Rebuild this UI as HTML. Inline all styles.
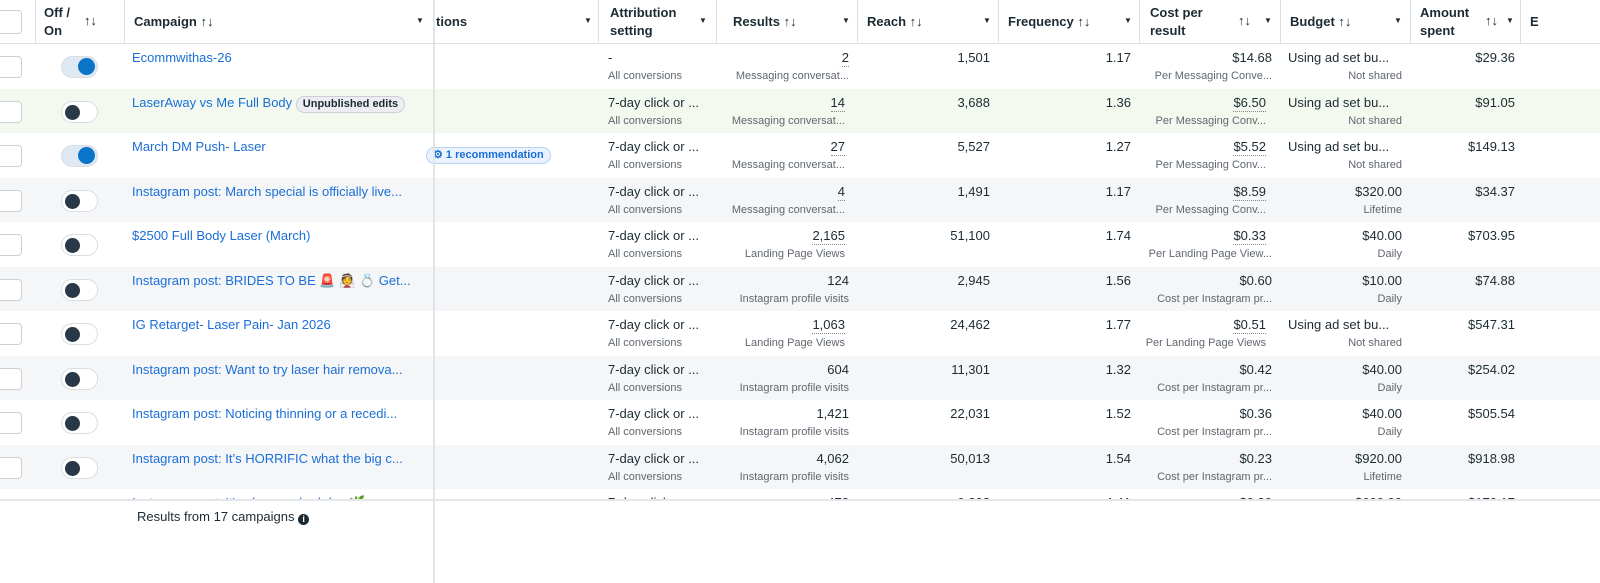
<!DOCTYPE html>
<html><head><meta charset="utf-8">
<style>
*{margin:0;padding:0;box-sizing:border-box}
body{width:1600px;height:583px;overflow:hidden;background:#fff;font-family:"Liberation Sans","Noto Sans CJK JP",sans-serif;color:#1c2b33;position:relative}
.a{position:absolute;white-space:nowrap}
.hd{position:absolute;left:0;top:0;width:1600px;height:44px;border-bottom:1px solid #dcdfe3;background:#fff}
.hv{position:absolute;top:0;height:44px;width:1px;background:#dcdfe3}
.ht{position:absolute;font-size:13px;font-weight:bold;line-height:18px;color:#1c2b33}
.car{position:absolute;font-size:8px;color:#1c2b33;top:16px}
.rows{position:absolute;left:0;top:44px;width:1600px;height:456px;overflow:hidden}
.r{position:absolute;left:0;width:1600px;height:44.5px}
.m{position:absolute;top:6px;font-size:13px;line-height:16px;white-space:nowrap}
.s{position:absolute;top:25px;font-size:11px;line-height:14px;color:#606770;white-space:nowrap}
.rt{text-align:right}
.lk{color:#1a6ed8}
.cb{position:absolute;left:-6px;top:12px;width:28px;height:22px;border:1px solid #ccd0d5;border-radius:4px;background:#fff}
.tg{position:absolute;left:61px;top:12px;width:37px;height:22px;border-radius:11px;border:1px solid #d8dde2;background:#fff}
.tg i{position:absolute;left:3px;top:3px;width:15px;height:15px;border-radius:50%;background:#283846}
.tg.on{background:#dfe9f4}
.tg.on i{left:auto;right:2px;background:#0a74c8;width:17px;height:17px;top:1px}
.du{border-bottom:1px dotted #888}
</style></head><body>
<div class="hd">
 <div class="hv" style="left:35px"></div><div class="hv" style="left:124px"></div>
 <div class="hv" style="left:598px"></div><div class="hv" style="left:716px"></div>
 <div class="hv" style="left:857px"></div><div class="hv" style="left:998px"></div>
 <div class="hv" style="left:1139px"></div><div class="hv" style="left:1280px"></div>
 <div class="hv" style="left:1410px"></div><div class="hv" style="left:1520px"></div>
 <div class="a" style="left:-6px;top:10px;width:28px;height:24px;border:1px solid #ccd0d5;border-radius:4px"></div>
 <div class="ht" style="left:44px;top:4px">Off /<br>On</div><div class="ht" style="left:84px;top:12px">↑↓</div>
 <div class="ht" style="left:134px;top:13px">Campaign ↑↓</div><div class="car" style="left:416px">▼</div>
 <div class="ht" style="left:436px;top:13px">tions</div><div class="car" style="left:584px">▼</div>
 <div class="ht" style="left:610px;top:4px">Attribution<br>setting</div><div class="car" style="left:699px">▼</div>
 <div class="ht" style="left:733px;top:13px">Results ↑↓</div><div class="car" style="left:842px">▼</div>
 <div class="ht" style="left:867px;top:13px">Reach ↑↓</div><div class="car" style="left:983px">▼</div>
 <div class="ht" style="left:1008px;top:13px">Frequency ↑↓</div><div class="car" style="left:1124px">▼</div>
 <div class="ht" style="left:1150px;top:4px">Cost per<br>result</div><div class="ht" style="left:1238px;top:12px">↑↓</div><div class="car" style="left:1264px">▼</div>
 <div class="ht" style="left:1290px;top:13px">Budget ↑↓</div><div class="car" style="left:1394px">▼</div>
 <div class="ht" style="left:1420px;top:4px">Amount<br>spent</div><div class="ht" style="left:1485px;top:12px">↑↓</div><div class="car" style="left:1506px">▼</div>
 <div class="ht" style="left:1530px;top:13px">E</div>
</div>
<div class="rows">
<!-- row template: campaign at 132, attribution 608, results right 849, reach right 990, freq right 1131, cost right 1272, budget 1288 / right 1402, amount right 1515 -->
<div class="r" style="top:0;background:#fff"><div class="cb"></div><div class="tg on"><i></i></div>
 <div class="m lk" style="left:132px">Ecommwithas-26</div>
 <div class="m" style="left:608px">-</div><div class="s" style="left:608px">All conversions</div>
 <div class="m rt du" style="right:751px">2</div><div class="s rt" style="right:751px">Messaging conversat...</div>
 <div class="m rt" style="right:610px">1,501</div><div class="m rt" style="right:469px">1.17</div>
 <div class="m rt" style="right:328px">$14.68</div><div class="s rt" style="right:328px">Per Messaging Conve...</div>
 <div class="m" style="left:1288px">Using ad set bu...</div><div class="s rt" style="right:198px">Not shared</div>
 <div class="m rt" style="right:85px">$29.36</div></div>
<div class="r" style="top:44.5px;background:#f3f9ee"><div class="cb"></div><div class="tg"><i></i></div>
 <div class="m lk" style="left:132px">LaserAway vs Me Full Body <span style="display:inline-block;font-size:11px;font-weight:bold;color:#1c2b33;background:#eceef1;border:1px solid #ccd0d5;border-radius:9px;padding:0 6px;line-height:15px">Unpublished edits</span></div>
 <div class="m" style="left:608px">7-day click or ...</div><div class="s" style="left:608px">All conversions</div>
 <div class="m rt du" style="right:755px">14</div><div class="s rt" style="right:755px">Messaging conversat...</div>
 <div class="m rt" style="right:610px">3,688</div><div class="m rt" style="right:469px">1.36</div>
 <div class="m rt du" style="right:334px">$6.50</div><div class="s rt" style="right:334px">Per Messaging Conv...</div>
 <div class="m" style="left:1288px">Using ad set bu...</div><div class="s rt" style="right:198px">Not shared</div>
 <div class="m rt" style="right:85px">$91.05</div></div>
<div class="r" style="top:89px;background:#fff"><div class="cb"></div><div class="tg on"><i></i></div>
 <div class="m lk" style="left:132px">March DM Push- Laser</div>
 <div class="a" style="left:426px;top:14px;font-size:11px;font-weight:bold;color:#1a6ed8;background:#eaf3fd;border:1px solid #b9d3f0;border-radius:9px;padding:0 6px;line-height:15px">⚙ 1 recommendation</div>
 <div class="m" style="left:608px">7-day click or ...</div><div class="s" style="left:608px">All conversions</div>
 <div class="m rt du" style="right:755px">27</div><div class="s rt" style="right:755px">Messaging conversat...</div>
 <div class="m rt" style="right:610px">5,527</div><div class="m rt" style="right:469px">1.27</div>
 <div class="m rt du" style="right:334px">$5.52</div><div class="s rt" style="right:334px">Per Messaging Conv...</div>
 <div class="m" style="left:1288px">Using ad set bu...</div><div class="s rt" style="right:198px">Not shared</div>
 <div class="m rt" style="right:85px">$149.13</div></div>
<div class="r" style="top:133.5px;background:#f5f6f7"><div class="cb"></div><div class="tg"><i></i></div>
 <div class="m lk" style="left:132px">Instagram post: March special is officially live...</div>
 <div class="m" style="left:608px">7-day click or ...</div><div class="s" style="left:608px">All conversions</div>
 <div class="m rt du" style="right:755px">4</div><div class="s rt" style="right:755px">Messaging conversat...</div>
 <div class="m rt" style="right:610px">1,491</div><div class="m rt" style="right:469px">1.17</div>
 <div class="m rt du" style="right:334px">$8.59</div><div class="s rt" style="right:334px">Per Messaging Conv...</div>
 <div class="m rt" style="right:198px">$320.00</div><div class="s rt" style="right:198px">Lifetime</div>
 <div class="m rt" style="right:85px">$34.37</div></div>
<div class="r" style="top:178px;background:#fff"><div class="cb"></div><div class="tg"><i></i></div>
 <div class="m lk" style="left:132px">$2500 Full Body Laser (March)</div>
 <div class="m" style="left:608px">7-day click or ...</div><div class="s" style="left:608px">All conversions</div>
 <div class="m rt du" style="right:755px">2,165</div><div class="s rt" style="right:755px">Landing Page Views</div>
 <div class="m rt" style="right:610px">51,100</div><div class="m rt" style="right:469px">1.74</div>
 <div class="m rt du" style="right:334px">$0.33</div><div class="s rt" style="right:328px">Per Landing Page View...</div>
 <div class="m rt" style="right:198px">$40.00</div><div class="s rt" style="right:198px">Daily</div>
 <div class="m rt" style="right:85px">$703.95</div></div>
<div class="r" style="top:222.5px;background:#f5f6f7"><div class="cb"></div><div class="tg"><i></i></div>
 <div class="m lk" style="left:132px">Instagram post: BRIDES TO BE 🚨 👰 💍 Get...</div>
 <div class="m" style="left:608px">7-day click or ...</div><div class="s" style="left:608px">All conversions</div>
 <div class="m rt" style="right:751px">124</div><div class="s rt" style="right:751px">Instagram profile visits</div>
 <div class="m rt" style="right:610px">2,945</div><div class="m rt" style="right:469px">1.56</div>
 <div class="m rt" style="right:328px">$0.60</div><div class="s rt" style="right:328px">Cost per Instagram pr...</div>
 <div class="m rt" style="right:198px">$10.00</div><div class="s rt" style="right:198px">Daily</div>
 <div class="m rt" style="right:85px">$74.88</div></div>
<div class="r" style="top:267px;background:#fff"><div class="cb"></div><div class="tg"><i></i></div>
 <div class="m lk" style="left:132px">IG Retarget- Laser Pain- Jan 2026</div>
 <div class="m" style="left:608px">7-day click or ...</div><div class="s" style="left:608px">All conversions</div>
 <div class="m rt du" style="right:755px">1,063</div><div class="s rt" style="right:755px">Landing Page Views</div>
 <div class="m rt" style="right:610px">24,462</div><div class="m rt" style="right:469px">1.77</div>
 <div class="m rt du" style="right:334px">$0.51</div><div class="s rt" style="right:334px">Per Landing Page Views</div>
 <div class="m" style="left:1288px">Using ad set bu...</div><div class="s rt" style="right:198px">Not shared</div>
 <div class="m rt" style="right:85px">$547.31</div></div>
<div class="r" style="top:311.5px;background:#f5f6f7"><div class="cb"></div><div class="tg"><i></i></div>
 <div class="m lk" style="left:132px">Instagram post: Want to try laser hair remova...</div>
 <div class="m" style="left:608px">7-day click or ...</div><div class="s" style="left:608px">All conversions</div>
 <div class="m rt" style="right:751px">604</div><div class="s rt" style="right:751px">Instagram profile visits</div>
 <div class="m rt" style="right:610px">11,301</div><div class="m rt" style="right:469px">1.32</div>
 <div class="m rt" style="right:328px">$0.42</div><div class="s rt" style="right:328px">Cost per Instagram pr...</div>
 <div class="m rt" style="right:198px">$40.00</div><div class="s rt" style="right:198px">Daily</div>
 <div class="m rt" style="right:85px">$254.02</div></div>
<div class="r" style="top:356px;background:#fff"><div class="cb"></div><div class="tg"><i></i></div>
 <div class="m lk" style="left:132px">Instagram post: Noticing thinning or a recedi...</div>
 <div class="m" style="left:608px">7-day click or ...</div><div class="s" style="left:608px">All conversions</div>
 <div class="m rt" style="right:751px">1,421</div><div class="s rt" style="right:751px">Instagram profile visits</div>
 <div class="m rt" style="right:610px">22,031</div><div class="m rt" style="right:469px">1.52</div>
 <div class="m rt" style="right:328px">$0.36</div><div class="s rt" style="right:328px">Cost per Instagram pr...</div>
 <div class="m rt" style="right:198px">$40.00</div><div class="s rt" style="right:198px">Daily</div>
 <div class="m rt" style="right:85px">$505.54</div></div>
<div class="r" style="top:400.5px;background:#f5f6f7"><div class="cb"></div><div class="tg"><i></i></div>
 <div class="m lk" style="left:132px">Instagram post: It’s HORRIFIC what the big c...</div>
 <div class="m" style="left:608px">7-day click or ...</div><div class="s" style="left:608px">All conversions</div>
 <div class="m rt" style="right:751px">4,062</div><div class="s rt" style="right:751px">Instagram profile visits</div>
 <div class="m rt" style="right:610px">50,013</div><div class="m rt" style="right:469px">1.54</div>
 <div class="m rt" style="right:328px">$0.23</div><div class="s rt" style="right:328px">Cost per Instagram pr...</div>
 <div class="m rt" style="right:198px">$920.00</div><div class="s rt" style="right:198px">Lifetime</div>
 <div class="m rt" style="right:85px">$918.98</div></div>
<div class="r" style="top:445px;background:#fff"><div class="cb"></div><div class="tg"><i></i></div>
 <div class="m lk" style="left:132px">Instagram post: It's always a bad day 🌿</div>
 <div class="m" style="left:608px">7-day click or ...</div>
 <div class="m rt" style="right:751px">472</div>
 <div class="m rt" style="right:610px">9,202</div><div class="m rt" style="right:469px">1.11</div>
 <div class="m rt" style="right:328px">$0.30</div>
 <div class="m rt" style="right:198px">$600.00</div>
 <div class="m rt" style="right:85px">$170.17</div></div>
</div>
<div class="a" style="left:0;top:499px;width:1600px;height:2px;background:#e4e6ea"></div>
<div class="a" style="left:433px;top:0;width:2px;height:583px;background:#e2e4e7"></div>
<div class="a" style="left:137px;top:509px;font-size:13px;color:#1c2b33">Results from 17 campaigns <span style="display:inline-block;width:11px;height:11px;border-radius:50%;background:#1c2b33;color:#fff;font-size:9px;font-weight:bold;text-align:center;line-height:11px;vertical-align:-1px">i</span></div>
</body></html>
